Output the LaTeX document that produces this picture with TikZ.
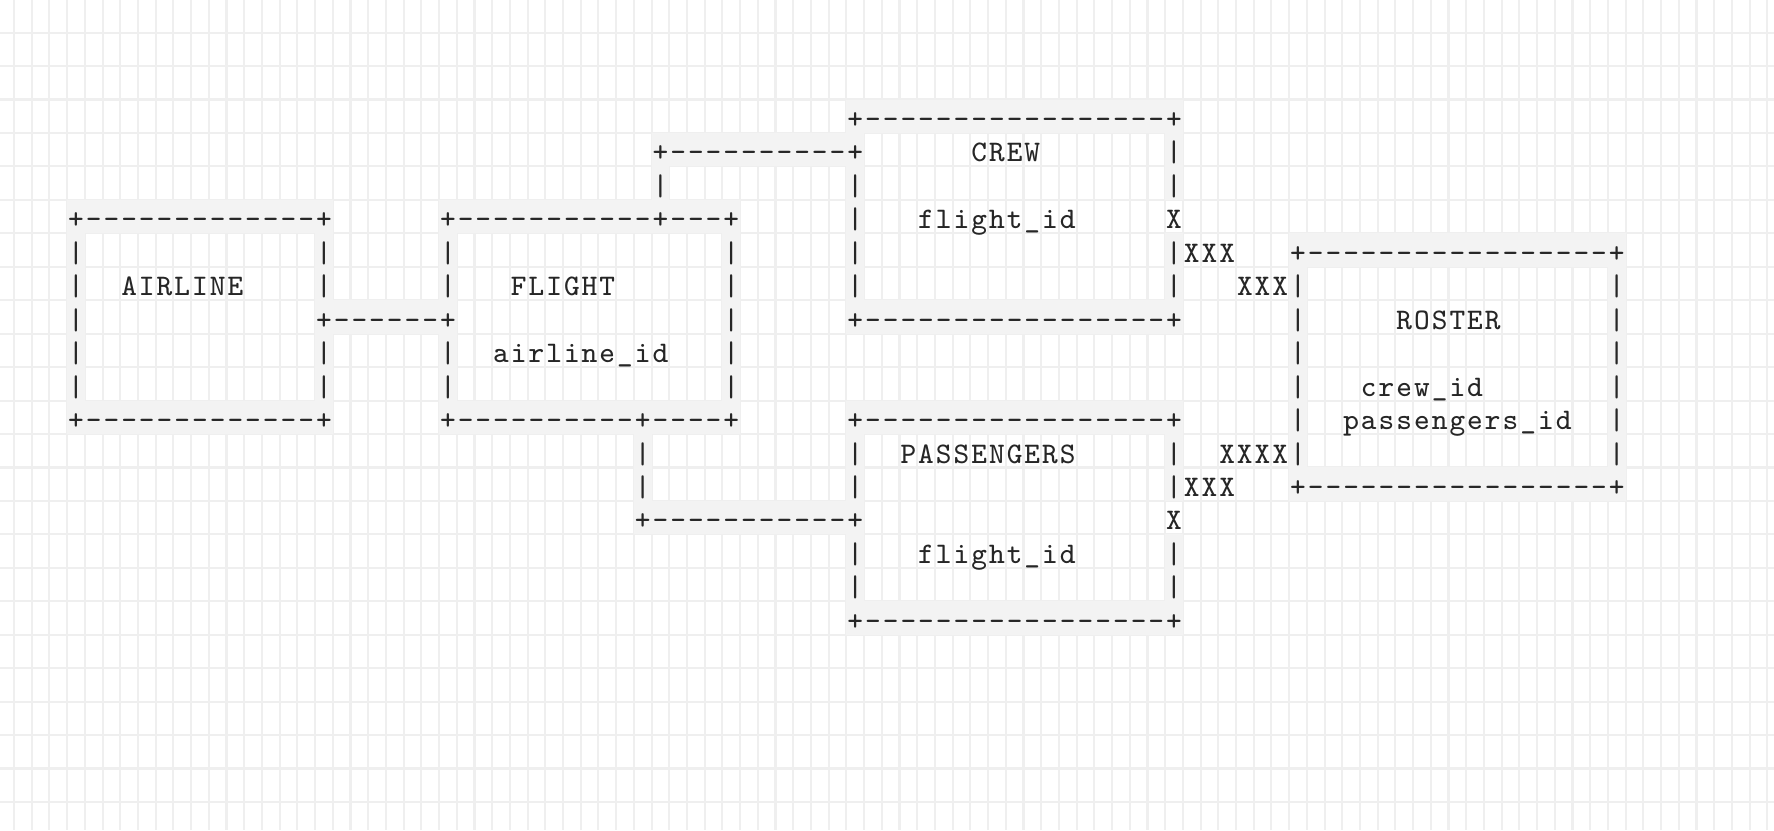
\documentclass[tikz,border=0pt]{standalone}
\usepackage{tikz}

\newlength\cellw
\setlength\cellw{0.1771cm}
\definecolor{gridln}{HTML}{EFEFEF}
\definecolor{cellshade}{HTML}{F3F3F3}
\definecolor{ink}{HTML}{262626}

% one character per grid cell, line characters get a grey cell behind them
\newcommand\asciishade{\rlap{\color{cellshade}\rule[-0.0441cm]{\cellw}{0.3345cm}}}
\newcommand\asciibox[1]{%
  \ifx#1+\asciishade\fi
  \ifx#1-\asciishade\fi
  \ifx#1|\asciishade\fi
  \makebox[\cellw][c]{#1}}
\def\asciiloop#1{\ifx#1\relax\else\asciibox{#1}\expandafter\asciiloop\fi}
\newcommand\asciicells[1]{\asciiloop#1\relax}
\newcommand\asciifont{\fontsize{8.5}{8.5}\selectfont\ttfamily}

\begin{document}
\begin{tikzpicture}[x=0.1771cm,y=-0.3345cm,
    asc/.style={anchor=base west,inner sep=0pt,outer sep=0pt,
      xshift=-0.08855cm,yshift=-0.1232cm,text=ink,font=\asciifont}]
        \useasboundingbox (-4.291,-3.474) rectangle (95.88,21.339);
        \fill[white] (-4.291,-3.474) rectangle (95.88,21.339);
        %% Grid
        \foreach \k in {-4,...,95}
            \draw[gridln,line width=0.6pt] (\k+0.5,-3.474) -- (\k+0.5,21.339);
        \foreach \k in {-3,...,20}
            \draw[gridln,line width=0.6pt] (-4.291,\k+0.5) -- (95.88,\k+0.5);
        %% Airline
        \node[asc] (airtop) at (0,3) {\asciicells{+-------------+}};
        \node[asc] (airname) at (3,5) {\asciicells{AIRLINE}};
        \node[asc] (airbot) at (0,9) {\asciicells{+-------------+}};
        \node[asc] (airlink) at (14,6) {\asciicells{+------+}};
        %% Flight
        \node[asc] (flighttop) at (21,3) {\asciicells{+-----------+---+}};
        \node[asc] (flightname) at (25,5) {\asciicells{FLIGHT}};
        \node[asc] (flightkey) at (24,7) {\asciicells{airline\_id}};
        \node[asc] (flightbot) at (21,9) {\asciicells{+----------+----+}};
        %% Crew
        \node[asc] (crewlink) at (33,1) {\asciicells{+----------+}};
        \node[asc] (crewtop) at (44,0) {\asciicells{+-----------------+}};
        \node[asc] (crewname) at (51,1) {\asciicells{CREW}};
        \node[asc] (crewkey) at (48,3) {\asciicells{flight\_id}};
        \node[asc] (crewbot) at (44,6) {\asciicells{+-----------------+}};
        \node[asc] (crewx) at (62,3) {\asciicells{X}};
        \node[asc] (crewx1) at (62,4) {\asciicells{|XXX}};
        \node[asc] (crewx2) at (66,5) {\asciicells{XXX|}};
        %% Passengers
        \node[asc] (passlink) at (32,12) {\asciicells{+-----------+}};
        \node[asc] (passtop) at (44,9) {\asciicells{+-----------------+}};
        \node[asc] (passname) at (47,10) {\asciicells{PASSENGERS}};
        \node[asc] (passkey) at (48,13) {\asciicells{flight\_id}};
        \node[asc] (passbot) at (44,15) {\asciicells{+-----------------+}};
        \node[asc] (passx) at (62,12) {\asciicells{X}};
        \node[asc] (passx1) at (62,11) {\asciicells{|XXX}};
        \node[asc] (passx2) at (65,10) {\asciicells{XXXX|}};
        %% Roster
        \node[asc] (rostertop) at (69,4) {\asciicells{+-----------------+}};
        \node[asc] (rostername) at (75,6) {\asciicells{ROSTER}};
        \node[asc] (rosterkey1) at (73,8) {\asciicells{crew\_id}};
        \node[asc] (rosterkey2) at (72,9) {\asciicells{passengers\_id}};
        \node[asc] (rosterbot) at (69,11) {\asciicells{+-----------------+}};
        %% Side bars
        \foreach \c/\r in {0/4,0/5,0/6,0/7,0/8,14/4,14/5,14/7,14/8,
                           21/4,21/5,21/7,21/8,37/4,37/5,37/6,37/7,37/8,
                           33/2,32/10,32/11,
                           44/2,44/3,44/4,44/5,44/10,44/11,44/13,44/14,
                           62/1,62/2,62/5,62/10,62/13,62/14,
                           69/6,69/7,69/8,69/9,87/5,87/6,87/7,87/8,87/9,87/10}
            \node[asc] (bar\c-\r) at (\c,\r) {\asciicells{|}};
    \end{tikzpicture}
\end{document}
